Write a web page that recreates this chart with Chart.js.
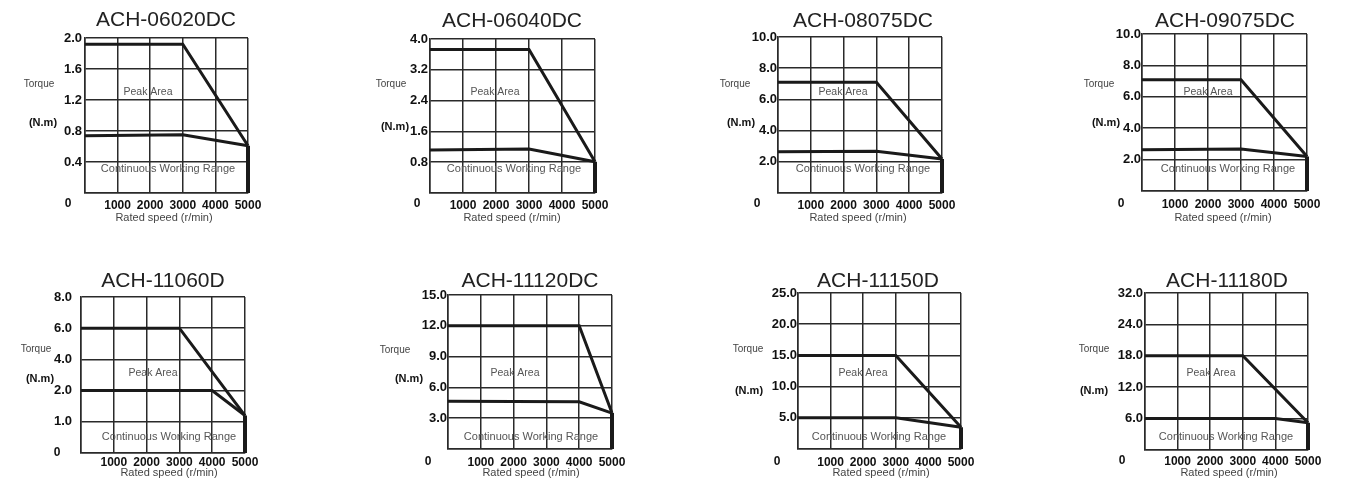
<!DOCTYPE html>
<html><head><meta charset="utf-8">
<script src="https://cdn.jsdelivr.net/npm/chart.js@4.4.0/dist/chart.umd.min.js"></script>
<style>
html,body{margin:0;padding:0;background:#fff;width:1351px;height:479px;overflow:hidden}
canvas{position:absolute}
</style></head><body>
<script>
// ---------- DATA ----------
const models = ['ACH-06020DC','ACH-06040DC','ACH-08075DC','ACH-09075DC','ACH-11060D','ACH-11120DC','ACH-11150D','ACH-11180D'];
const speedTicks = [0, 1000, 2000, 3000, 4000, 5000];
const torqueTicks = [
  [0, 0.4, 0.8, 1.2, 1.6, 2.0],
  [0, 0.8, 1.6, 2.4, 3.2, 4.0],
  [0, 2, 4, 6, 8, 10],
  [0, 2, 4, 6, 8, 10],
  [0, 1, 2, 4, 6, 8],
  [0, 3, 6, 9, 12, 15],
  [0, 5, 10, 15, 20, 25],
  [0, 6, 12, 18, 24, 32]
];
const peakSpeed = [
  [0, 3000, 5000], [0, 3000, 5000], [0, 3000, 5000], [0, 3000, 5000],
  [0, 3000, 5000], [0, 4000, 5000], [0, 3000, 5000], [0, 3000, 5000]
];
const peakTorque = [
  [1.92, 1.92, 0.61], [3.73, 3.73, 0.81], [7.1, 7.1, 2.18], [7.08, 7.08, 2.2],
  [6.0, 6.0, 1.2], [12.0, 12.0, 3.5], [15.0, 15.0, 3.5], [18.0, 18.0, 5.2]
];
const contSpeed = [
  [0, 3000, 5000], [0, 3000, 5000], [0, 3000, 5000], [0, 3000, 5000],
  [0, 4000, 5000], [0, 4000, 5000], [0, 3000, 5000], [0, 4000, 5000]
];
const contTorque = [
  [0.74, 0.75, 0.61], [1.12, 1.14, 0.81], [2.65, 2.68, 2.18], [2.63, 2.67, 2.2],
  [2.0, 2.0, 1.2], [4.65, 4.6, 3.5], [5.0, 5.0, 3.5], [6.0, 6.0, 5.2]
];

// ---------- LAYOUT ----------
const canvasBoxes = [
  [0,0,340,240],[340,0,350,240],[690,0,350,240],[1040,0,311,240],
  [0,240,340,239],[340,240,350,239],[690,240,350,239],[1040,240,311,239]
];
const plotBoxes = [
  [85,38,248,193],[430,39,595,193],[778,37,942,193],[1142,34,1307,191],
  [81,297,245,453],[448,295,612,449],[798,293,961,449],[1145,293,1308,450]
];
const yPad = [3,2,1,1,9,1,1,2];
const xPad = [5,5,5,6,2,6,6,4];
const notes = [
  {title:[166,20], torque:[39,84], unit:[43,123], zero:[68,204], rated:[164,218], peak:[148,92], cwr:[168,169]},
  {title:[512,21], torque:[391,84], unit:[395,127], zero:[417,204], rated:[512,218], peak:[495,92], cwr:[514,169]},
  {title:[863,21], torque:[735,84], unit:[741,123], zero:[757,204], rated:[858,218], peak:[843,92], cwr:[863,169]},
  {title:[1225,21], torque:[1099,84], unit:[1106,123], zero:[1121,204], rated:[1223,218], peak:[1208,92], cwr:[1228,169]},
  {title:[163,281], torque:[36,349], unit:[40,379], zero:[57,453], rated:[169,473], peak:[153,373], cwr:[169,437]},
  {title:[530,281], torque:[395,350], unit:[409,379], zero:[428,462], rated:[531,473], peak:[515,373], cwr:[531,437]},
  {title:[878,281], torque:[748,349], unit:[749,391], zero:[777,462], rated:[881,473], peak:[863,373], cwr:[879,437]},
  {title:[1227,281], torque:[1094,349], unit:[1094,391], zero:[1122,461], rated:[1229,473], peak:[1211,373], cwr:[1226,437]}
];

const FAM = "'Liberation Sans', Arial, Helvetica, sans-serif";
const GRID = '#2a2a2a';
const INK = '#1a1a1a';

// map a torque value onto the evenly spaced tick positions of the axis
function toPos(v, ticks) {
  for (let k = 1; k < ticks.length; k++) {
    if (v <= ticks[k] || k === ticks.length - 1) {
      const a = ticks[k - 1], b = ticks[k];
      return (k - 1) + (v - a) / (b - a);
    }
  }
  return 0;
}
function pts(sp, tq, ticks) { return sp.map((s, k) => ({x: s, y: toPos(tq[k], ticks)})); }

function txt(ctx, s, x, y, font, color) {
  ctx.save();
  ctx.font = font; ctx.fillStyle = color;
  ctx.textAlign = 'center'; ctx.textBaseline = 'middle';
  ctx.fillText(s, x, y);
  ctx.restore();
}

models.forEach((name, i) => {
  const [cx, cy, cw, ch] = canvasBoxes[i];
  const [L, T, R, B] = plotBoxes[i];
  const cv = document.createElement('canvas');
  cv.width = cw; cv.height = ch;
  cv.style.left = cx + 'px'; cv.style.top = cy + 'px';
  cv.style.width = cw + 'px'; cv.style.height = ch + 'px';
  document.body.appendChild(cv);
  const ticks = torqueTicks[i];
  const n = notes[i];
  const rel = p => [p[0] - cx, p[1] - cy];
  const yW = L - cx;          // room for the y axis labels
  const xH = cy + ch - B;     // room for the x axis labels

  const annot = {
    id: 'annot' + i,
    beforeDatasetsDraw(chart) {
      const ctx = chart.ctx;
      let p = rel(n.peak); txt(ctx, 'Peak Area', p[0], p[1], '10.5px ' + FAM, '#555');
      p = rel(n.cwr); txt(ctx, 'Continuous Working Range', p[0], p[1], '11px ' + FAM, '#555');
    },
    afterDraw(chart) {
      const ctx = chart.ctx;
      let p = rel(n.title); txt(ctx, name, p[0], p[1], '21px ' + FAM, '#222');
      p = rel(n.torque); txt(ctx, 'Torque', p[0], p[1], '10px ' + FAM, '#444');
      p = rel(n.unit); txt(ctx, '(N.m)', p[0], p[1], 'bold 11px ' + FAM, '#111');
      p = rel(n.zero); txt(ctx, '0', p[0], p[1], 'bold 12px ' + FAM, '#111');
      p = rel(n.rated); txt(ctx, 'Rated speed (r/min)', p[0], p[1], '11px ' + FAM, '#444');
    }
  };

  const lineDs = (data, w) => ({
    data, showLine: true, borderColor: INK, backgroundColor: INK, borderWidth: w,
    pointRadius: 0, pointHoverRadius: 0, tension: 0, clip: false,
    borderJoinStyle: 'miter', borderCapStyle: 'butt'
  });
  const endT = peakTorque[i][peakTorque[i].length - 1];

  new Chart(cv, {
    type: 'scatter',
    data: {
      datasets: [
        lineDs(pts(peakSpeed[i], peakTorque[i], ticks), 3),
        lineDs(pts(contSpeed[i], contTorque[i], ticks), 3),
        lineDs([{x: 5000, y: toPos(endT, ticks)}, {x: 5000, y: 0}], 4)
      ]
    },
    options: {
      responsive: false, animation: false, events: [],
      layout: {padding: {left: 0, top: T - cy, right: cx + cw - R, bottom: 0}},
      plugins: {legend: {display: false}, tooltip: {enabled: false}, title: {display: false}},
      scales: {
        x: {
          type: 'linear', min: 0, max: 5000,
          afterBuildTicks: s => { s.ticks = speedTicks.map(v => ({value: v})); },
          afterFit: s => { s.height = xH; },
          grid: {color: GRID, lineWidth: 1.5, drawTicks: false},
          border: {color: GRID, width: 1.5},
          ticks: {autoSkip: false, maxRotation: 0, minRotation: 0, padding: xPad[i], color: '#111',
                  font: {family: FAM, size: 12, weight: 'bold'},
                  callback: (v) => v === 0 ? '' : String(v)}
        },
        y: {
          type: 'linear', min: 0, max: ticks.length - 1,
          afterBuildTicks: s => { s.ticks = ticks.map((t, k) => ({value: k})); },
          afterFit: s => { s.width = yW; },
          grid: {color: GRID, lineWidth: 1.5, drawTicks: false},
          border: {color: GRID, width: 1.5},
          ticks: {autoSkip: false, padding: yPad[i], color: '#111',
                  font: {family: FAM, size: 13, weight: 'bold'},
                  callback: (v, k) => k === 0 ? '' : ticks[k].toFixed(1)}
        }
      }
    },
    plugins: [annot]
  });
});
</script>
</body></html>
